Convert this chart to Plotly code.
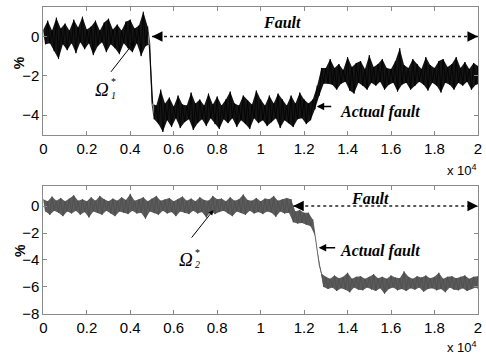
import plotly.graph_objects as go

# ---------------- data ----------------
# envelope sample times (samples); upper value at t, lower value at t+100
t_env = list(range(0, 20001, 200))

top_upper = (
    [0.35, 0.8, 0.3, 0.95, 0.4, 0.65, 0.3, 0.85, 0.45, 1.0,
     0.35, 0.5, 0.8, 0.3, 0.7, 0.9, 0.35, 0.6, 0.3, 0.75,
     0.85, 0.4, 0.55, 1.25, 0.5]
    + [-3.4, -3.5, -2.7, -3.4, -3.1, -3.55, -3.0, -3.45, -3.5, -2.85,
       -3.4, -3.2, -3.5, -2.9, -3.45, -3.05, -3.5, -3.2, -2.8, -3.4,
       -3.5, -3.0, -3.25, -3.45, -2.75, -3.2, -3.5, -3.0, -3.4, -2.9,
       -3.2, -3.5, -3.0, -3.4, -2.85, -3.2, -3.4]
    + [-3.2, -2.5, -1.6]
    + [-1.6, -1.15, -1.6, -1.4, -1.7, -1.05, -1.55, -1.35, -1.25, -1.65,
       -0.95, -1.55, -1.4, -1.15, -1.6, -1.65, -1.25, -0.6, -1.45, -1.6,
       -1.15, -1.4, -1.65, -1.05, -1.45, -1.6, -1.25, -1.15, -1.55, -1.4,
       -1.05, -1.6, -1.3, -1.65, -1.35, -1.5]
)
top_lower = (
    [-0.4, -0.35, -0.75, -1.15, -0.4, -0.7, -0.35, -0.85, -0.3, -0.65,
     -0.35, -0.95, -0.5, -0.3, -0.8, -0.4, -0.6, -0.9, -0.35, -0.6,
     -0.8, -0.35, -1.0, -0.5, -0.4]
    + [-4.2, -4.45, -4.85, -4.25, -4.6, -4.15, -4.65, -4.35, -4.2, -4.75,
       -4.4, -4.2, -4.55, -4.15, -4.45, -4.7, -4.2, -4.4, -4.15, -4.6,
       -4.25, -4.45, -4.7, -4.15, -4.4, -4.25, -4.55, -4.35, -4.15, -4.65,
       -4.25, -4.4, -4.6, -4.2, -4.15, -4.45, -4.25]
    + [-3.7, -3.0, -2.4]
    + [-2.4, -2.45, -2.7, -2.4, -2.3, -2.75, -2.9, -2.35, -2.5, -2.7,
       -2.35, -2.5, -2.3, -2.7, -2.45, -2.35, -2.8, -2.45, -2.35, -2.7,
       -2.5, -2.3, -2.45, -2.75, -2.35, -2.5, -2.85, -2.35, -2.45, -2.7,
       -2.35, -2.5, -2.3, -2.7, -2.45, -2.4]
)

bot_upper = (
    [0.5, 0.35, 0.7, 0.4, 0.6, 0.35, 0.55, 0.8, 0.4, 0.5,
     0.35, 0.65, 0.4, 0.75, 0.5, 0.35, 0.55, 0.4, 0.65, 0.45,
     0.9, 0.4, 0.5, 0.65, 0.35, 0.55, 0.75, 0.4, 0.5, 0.6,
     0.35, 0.5, 0.7, 0.4, 0.55, 0.35, 0.65, 0.45, 0.4, 0.75,
     0.5, 0.55, 0.35, 0.65, 0.4, 0.5, 0.85, 0.45, 0.4, 0.6,
     0.35, 0.55, 0.5, 0.75, 0.4, 0.5, 0.6]
    + [0.5]
    + [-0.4, -0.3, -0.5, -0.5]
    + [-1.0, -3.2, -5.0]
    + [-5.25, -5.4, -5.15, -5.35, -5.25, -4.95, -5.4, -5.25, -5.2, -5.4,
       -5.25, -5.05, -5.35, -5.25, -5.4, -5.15, -5.3, -5.35, -4.85, -5.25,
       -5.4, -5.2, -5.3, -5.15, -5.35, -5.25, -4.95, -5.4, -5.25, -5.2,
       -5.35, -5.25, -5.15, -5.4, -5.25, -5.2]
)
bot_lower = (
    [-0.4, -0.65, -0.35, -0.5, -0.75, -0.4, -0.55, -0.35, -0.65, -0.45,
     -0.85, -0.4, -0.5, -0.65, -0.35, -0.55, -0.75, -0.4, -0.5, -0.6,
     -0.35, -0.55, -0.5, -0.95, -0.4, -0.5, -0.65, -0.35, -0.55, -0.45,
     -0.75, -0.4, -0.5, -0.6, -0.35, -0.55, -0.45, -0.85, -0.4, -0.6,
     -0.45, -0.35, -0.55, -0.75, -0.4, -0.5, -0.65, -0.35, -0.55, -0.45,
     -0.6, -0.4, -0.5, -0.8, -0.4, -0.55, -0.5]
    + [-1.2]
    + [-1.3, -1.25, -1.4, -1.5]
    + [-2.2, -4.4, -6.0]
    + [-6.15, -6.05, -6.3, -6.1, -6.2, -6.4, -6.05, -6.2, -6.25, -6.05,
       -6.2, -6.3, -6.1, -6.5, -6.15, -6.05, -6.25, -6.15, -6.3, -6.1,
       -6.2, -6.05, -6.35, -6.15, -6.1, -6.25, -6.15, -6.4, -6.05, -6.2,
       -6.25, -6.1, -6.3, -6.15, -6.05, -6.25]
)

x_tickvals = [0, 2000, 4000, 6000, 8000, 10000, 12000, 14000, 16000, 18000, 20000]
x_ticktext = ["0", "0.2", "0.4", "0.6", "0.8", "1", "1.2", "1.4", "1.6", "1.8", "2"]
y1_ticks = [0, -2, -4]
y2_ticks = [0, -2, -4, -6, -8]

fault1_start, fault2_start, t_end = 5000, 11500, 20000

assert len(top_upper) == len(top_lower) == len(t_env)
assert len(bot_upper) == len(bot_lower) == len(t_env)


def zigzag(t, up, lo):
    xs, ys = [], []
    for ti, u, l in zip(t, up, lo):
        xs += [ti, ti + 100]
        ys += [u, l]
    return xs, ys


def band(t, up, lo):
    xs = list(t) + [ti + 100 for ti in t][::-1]
    ys = list(up) + list(lo)[::-1]
    return xs, ys


W, H = 486, 362
fig = go.Figure()
for (up, lo, xa, ya, fillc, linec) in [
        (top_upper, top_lower, "x", "y", "#151515", "#000000"),
        (bot_upper, bot_lower, "x2", "y2", "#5c5c5c", "#4e4e4e")]:
    bx, by = band(t_env, up, lo)
    fig.add_trace(go.Scatter(x=bx, y=by, mode="lines", fill="toself", fillcolor=fillc,
                             line=dict(width=0), xaxis=xa, yaxis=ya,
                             showlegend=False, hoverinfo="skip"))
    zx, zy = zigzag(t_env, up, lo)
    fig.add_trace(go.Scatter(x=zx, y=zy, mode="lines", line=dict(color=linec, width=0.8),
                             xaxis=xa, yaxis=ya, showlegend=False, hoverinfo="skip"))

tickfont = dict(family="Liberation Sans, Arial", size=15, color="black")
axcommon = dict(showline=True, linecolor="#8a8a8a", linewidth=1, mirror="allticks",
                ticks="inside", ticklen=4, tickcolor="#8a8a8a", showgrid=False,
                zeroline=False, tickfont=tickfont, ticklabeloverflow="allow")
xdom = [40 / W, 482 / W]
fig.update_layout(
    width=W, height=H, margin=dict(l=0, r=0, t=0, b=0),
    paper_bgcolor="white", plot_bgcolor="white",
    xaxis=dict(domain=xdom, anchor="y", range=[0, t_end + 5], tickvals=x_tickvals,
               ticktext=x_ticktext, **axcommon),
    yaxis=dict(domain=[1 - 138 / H, 1 - 7 / H], anchor="x", range=[-5, 1.5],
               tickvals=y1_ticks, **axcommon),
    xaxis2=dict(domain=xdom, anchor="y2", range=[0, t_end + 5], tickvals=x_tickvals,
                ticktext=x_ticktext, **axcommon),
    yaxis2=dict(domain=[1 - 321 / H, 1 - 190 / H], anchor="x2", range=[-8, 1.5],
                tickvals=y2_ticks, **axcommon),
)

# dotted fault spans
fig.add_shape(type="line", xref="x", yref="y", x0=fault1_start, x1=t_end, y0=0, y1=0,
              line=dict(color="#222", width=1.5, dash="dot"))
fig.add_shape(type="line", xref="x2", yref="y2", x0=fault2_start, x1=t_end, y0=0, y1=0,
              line=dict(color="#222", width=1.5, dash="dot"))

serif = "Liberation Serif, Times New Roman"
ann = []
# arrowheads at both ends of fault spans
for xr, yr, xs, d in [("x", "y", fault1_start, 10), ("x", "y", t_end, -10),
                      ("x2", "y2", fault2_start, 10), ("x2", "y2", t_end, -10)]:
    ann.append(dict(xref=xr, yref=yr, x=xs, y=0, ax=d, ay=0, text="", showarrow=True,
                    arrowhead=2, arrowsize=1.4, arrowwidth=1.5, arrowcolor="black", standoff=0))


def ptext(px, py, text, size, family=serif, **kw):
    return dict(xref="paper", yref="paper", x=px / W, y=1 - py / H, text=text,
                showarrow=False, font=dict(family=family, size=size, color="black"),
                xanchor="center", yanchor="middle", **kw)


ann += [
    ptext(283, 23, "<b><i>Fault</i></b>", 16),
    ptext(372, 203, "<b><i>Fault</i></b>", 16),
    ptext(382, 115, "<b><i>Actual fault</i></b>", 16),
    ptext(382, 257, "<b><i>Actual fault</i></b>", 16),
    ptext(100, 92, "<i>Ω</i>", 19),
    ptext(111, 98, "<i>1</i>", 10),
    ptext(111, 83, "*", 10),
    ptext(185, 265, "<i>Ω</i>", 19),
    ptext(197, 270, "<i>2</i>", 10),
    ptext(197, 258, "*", 10),
    ptext(15, 64, "<b>%</b>", 14, family="Liberation Sans, Arial", textangle=-90),
    ptext(17, 256, "<b>%</b>", 14, family="Liberation Sans, Arial", textangle=-90),
    ptext(466, 174, "x 10<sup>4</sup>", 13, family="Liberation Sans, Arial"),
    ptext(466, 355, "x 10<sup>4</sup>", 13, family="Liberation Sans, Arial"),
]
# pointer arrows
ann += [
    dict(xref="x", yref="y", x=12580, y=-3.56, ax=16, ay=0, text="", showarrow=True,
         arrowhead=2, arrowsize=1, arrowwidth=1.5, arrowcolor="black", standoff=0),
    dict(xref="x2", yref="y2", x=12670, y=-3.1, ax=18, ay=0, text="", showarrow=True,
         arrowhead=2, arrowsize=1, arrowwidth=1.5, arrowcolor="black", standoff=0),
    dict(xref="x", yref="y", x=4208, y=-0.25, ax=-25, ay=32, text="", showarrow=True,
         arrowhead=2, arrowsize=1, arrowwidth=1, arrowcolor="black", standoff=0),
    dict(xref="x2", yref="y2", x=7828, y=-0.3, ax=-23, ay=29, text="", showarrow=True,
         arrowhead=2, arrowsize=1, arrowwidth=1, arrowcolor="black", standoff=0),
]
fig.update_layout(annotations=ann)
fig.write_html("out.html")
